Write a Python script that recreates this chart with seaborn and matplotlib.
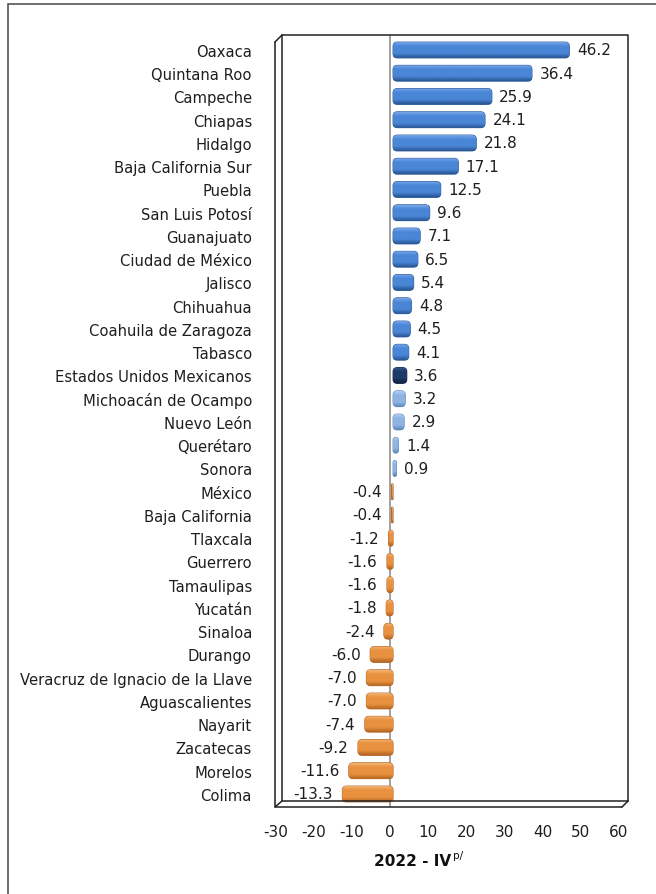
import numpy as np
import pandas as pd
import matplotlib
matplotlib.use("Agg")
import matplotlib.pyplot as plt
import matplotlib.transforms as mtransforms
from matplotlib.lines import Line2D
from matplotlib.patches import Rectangle, FancyBboxPatch
from matplotlib.colors import LinearSegmentedColormap
import seaborn as sns

states = [
    "Oaxaca", "Quintana Roo", "Campeche", "Chiapas", "Hidalgo",
    "Baja California Sur", "Puebla", "San Luis Potosí", "Guanajuato",
    "Ciudad de México", "Jalisco", "Chihuahua", "Coahuila de Zaragoza",
    "Tabasco", "Estados Unidos Mexicanos", "Michoacán de Ocampo",
    "Nuevo León", "Querétaro", "Sonora", "México", "Baja California",
    "Tlaxcala", "Guerrero", "Tamaulipas", "Yucatán", "Sinaloa", "Durango",
    "Veracruz de Ignacio de la Llave", "Aguascalientes", "Nayarit",
    "Zacatecas", "Morelos", "Colima",
]
values = [
    46.2, 36.4, 25.9, 24.1, 21.8, 17.1, 12.5, 9.6, 7.1, 6.5, 5.4, 4.8, 4.5,
    4.1, 3.6, 3.2, 2.9, 1.4, 0.9, -0.4, -0.4, -1.2, -1.6, -1.6, -1.8, -2.4,
    -6.0, -7.0, -7.0, -7.4, -9.2, -11.6, -13.3,
]
x_ticks = [-30, -20, -10, 0, 10, 20, 30, 40, 50, 60]
x_title = "2022 - IV"
x_title_sup = "p/"

national = "Estados Unidos Mexicanos"

# (top highlight, body, bottom shade) for each bar group
shades = {
    "national": ("#3a5f94", "#1d3a68", "#0f2241"),
    "neg": ("#f5b474", "#e8913f", "#b46524"),
    "low": ("#b3cdf0", "#8fb4e3", "#5f86bd"),
    "pos": ("#78a7ea", "#4a86d6", "#275594"),
}


def group(name, v):
    if name == national:
        return "national"
    if v < 0:
        return "neg"
    if v < 3.5:
        return "low"
    return "pos"


df = pd.DataFrame({"estado": states, "valor": values})
palette = {s: shades[group(s, v)][1] for s, v in zip(states, values)}

W, H = 656, 895
fig = plt.figure(figsize=(W / 100, H / 100), dpi=100)
sns.set_style("white")
plt.rcParams["font.family"] = ["DejaVu Sans"]

# axes = front plane of the pseudo-3D box (pixels)
x0, x1 = 275.6, 619.0
y0, y1 = 36.0, 808.0
ax = fig.add_axes([x0 / W, 1 - y1 / H, (x1 - x0) / W, (y1 - y0) / H])

sns.barplot(data=df, y="estado", x="valor", hue="estado", palette=palette,
            orient="h", width=0.68, legend=False, ax=ax, saturation=1)

xlim = (-30, 60)
ylim = (32.56, -0.645)
ax.set_xlim(*xlim)
ax.set_ylim(*ylim)
ax.set_xticks(x_ticks)
ax.set_xticklabels([str(t) for t in x_ticks])
ax.tick_params(axis="x", length=0, pad=12, labelsize=11, labelcolor="#1e1e1e")
ax.tick_params(axis="y", length=0, pad=17, labelsize=10.6, labelcolor="#1e1e1e")
ax.set_ylabel("")
ax.set_xlabel("")
for s in ax.spines.values():
    s.set_visible(False)
ax.axvline(0, color="#9a9a9a", lw=1.3, zorder=1)

# rounded, shaded "cylinder" bars, pushed back a little into the 3D box
px_x = (x1 - x0) / (xlim[1] - xlim[0])
px_y = (y1 - y0) / (ylim[0] - ylim[1])
aspect = px_x / px_y
depth = mtransforms.offset_copy(ax.transData, fig=fig, x=3, y=0, units="dots")

for patch, name, v in zip(list(ax.patches), states, values):
    top, body, bottom = shades[group(name, v)]
    bx, by = patch.get_x(), patch.get_y()
    bw, bh = patch.get_width(), patch.get_height()
    if bw < 0:
        bx, bw = bx + bw, -bw
    r = min(1.1, bw / 2)
    fb = FancyBboxPatch((bx, by), bw, bh,
                        boxstyle=f"round,pad=0,rounding_size={r}",
                        mutation_aspect=aspect, transform=depth,
                        facecolor=body, edgecolor=bottom, lw=0.7, zorder=3)
    ax.add_patch(fb)
    cmap = LinearSegmentedColormap.from_list(
        "cyl", [(0, top), (0.25, body), (0.7, body), (1, bottom)])
    grad = np.linspace(0, 1, 64).reshape(-1, 1)
    im = ax.imshow(grad, cmap=cmap, aspect="auto",
                   extent=[bx, bx + bw, by + bh, by], zorder=3.5,
                   interpolation="bilinear", transform=depth)
    im.set_clip_path(fb)
    patch.set_visible(False)

    # value label
    cy = by + bh / 2
    if v >= 0:
        ax.annotate(f"{v:.1f}", (bx + bw, cy), xytext=(7.5, 0),
                    textcoords="offset points", ha="left", va="center",
                    fontsize=11, color="#1e1e1e")
    else:
        ax.annotate(f"{v:.1f}", (bx, cy), xytext=(-4.7, 0),
                    textcoords="offset points", ha="right", va="center",
                    fontsize=11, color="#1e1e1e")

ax.set_xlim(*xlim)
ax.set_ylim(*ylim)

# x-axis title with superscript
ax.text(0.511, -0.069, x_title, transform=ax.transAxes, ha="right",
        va="center", fontsize=11, fontweight="bold", color="#111111")
ax.text(0.517, -0.062, x_title_sup, transform=ax.transAxes, ha="left",
        va="center", fontsize=7.5, color="#111111")


# pseudo-3D box lines in figure pixels
def fline(xs, ys):
    fig.add_artist(Line2D([x / W for x in xs], [1 - y / H for y in ys],
                          transform=fig.transFigure, color="#222222",
                          lw=1.1))


bx0, by0, bx1, by1 = 282, 36, 628, 802
fig.add_artist(Rectangle((275 / W, 1 - 808 / H), 7 / W, 765 / H,
                         transform=fig.transFigure, color="#dedede",
                         zorder=0, lw=0))
fline([bx0, bx1, bx1], [by0, by0, by1])
fline([bx0, bx0, bx1], [by0, by1, by1])
fline([275, 275, 622], [43, 808, 808])
fline([275, bx0], [43, by0])
fline([275, bx0], [808, by1])
fline([622, bx1], [808, by1])

# outer frame of the source image
fig.add_artist(Rectangle((8 / W, -0.02), 1.2, 1 - 5 / H + 0.02,
                         transform=fig.transFigure, fill=False,
                         edgecolor="#555555", lw=1.2))

fig.savefig("out.png", dpi=100)
